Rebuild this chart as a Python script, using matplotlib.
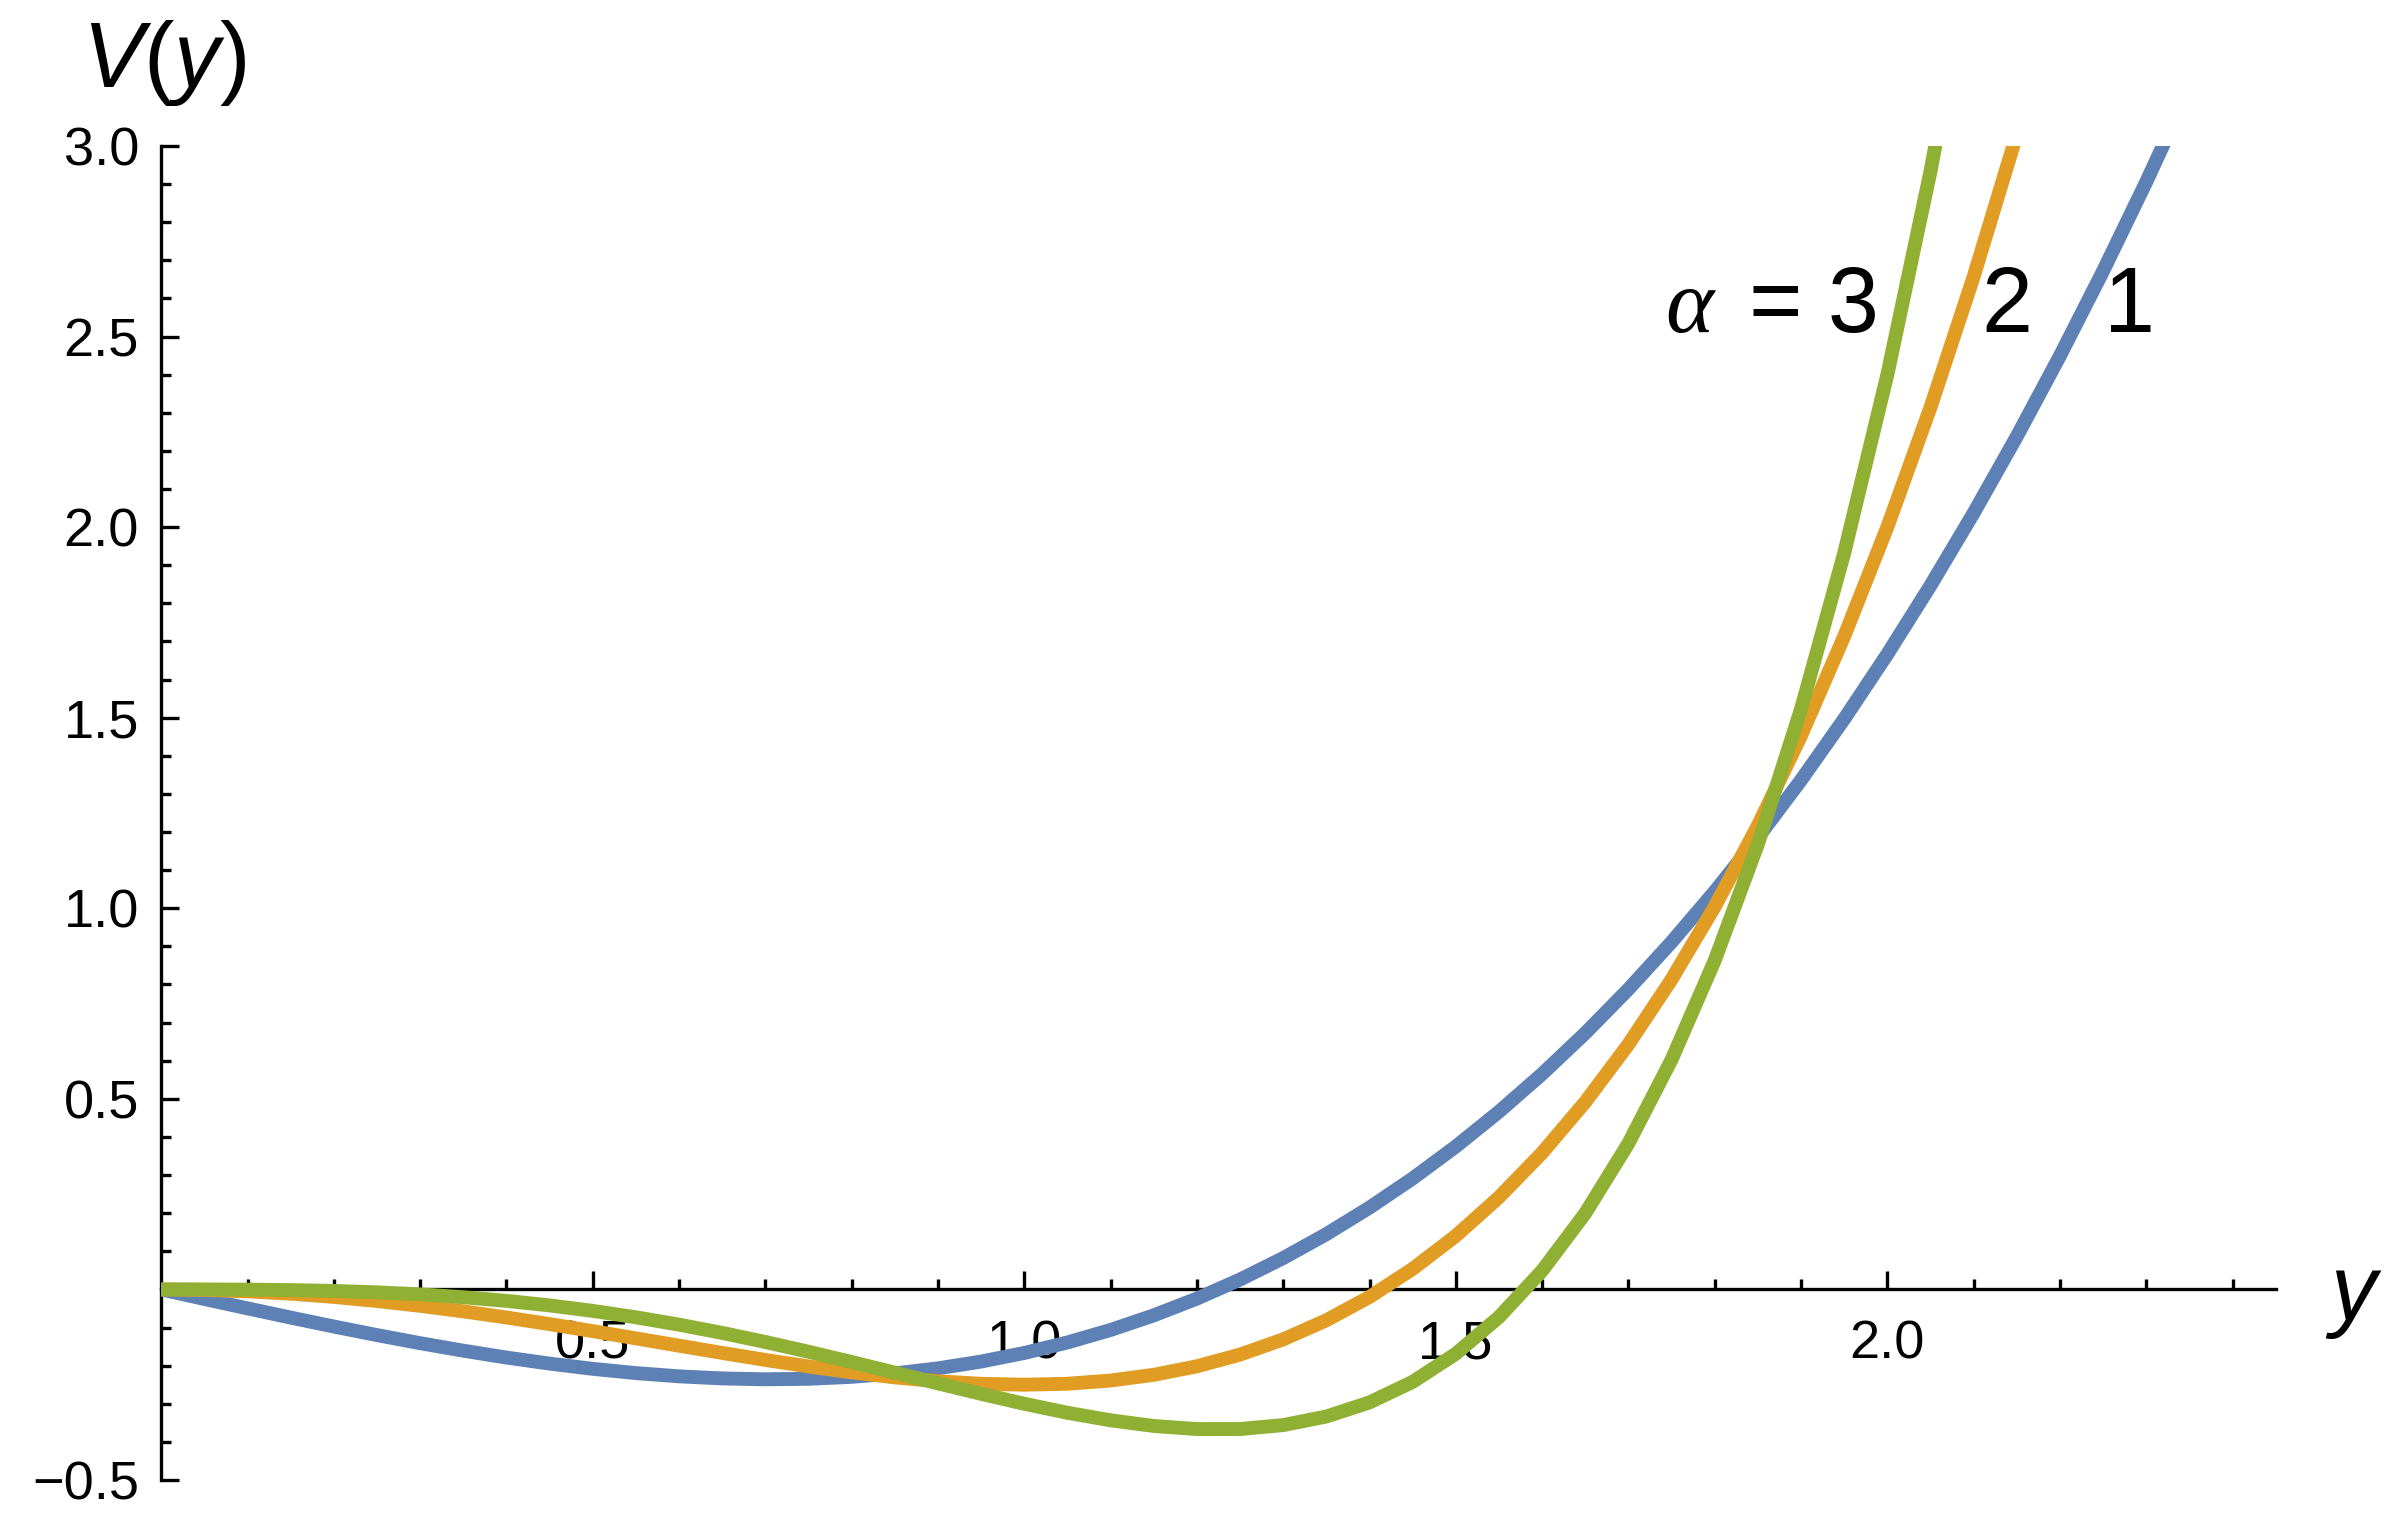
import matplotlib
matplotlib.use("Agg")
import matplotlib.pyplot as plt
from matplotlib.ticker import MultipleLocator, FixedLocator

# ---------------- data ----------------
y_grid = [0.00, 0.05, 0.10, 0.15, 0.20, 0.25, 0.30, 0.35, 0.40, 0.45,
          0.50, 0.55, 0.60, 0.65, 0.70, 0.75, 0.80, 0.85, 0.90, 0.95,
          1.00, 1.05, 1.10, 1.15, 1.20, 1.25, 1.30, 1.35, 1.40, 1.45,
          1.50, 1.55, 1.60, 1.65, 1.70, 1.75, 1.80, 1.85, 1.90, 1.95,
          2.00, 2.05, 2.10, 2.15, 2.20, 2.25, 2.30, 2.35]

V_alpha1 = [0, -0.025, -0.0497, -0.0739, -0.0973, -0.1198, -0.141, -0.1607,
            -0.1787, -0.1946, -0.2083, -0.2195, -0.228, -0.2335, -0.2357,
            -0.2344, -0.2293, -0.2203, -0.207, -0.1892, -0.1667, -0.1391,
            -0.1063, -0.068, -0.024, 0.026, 0.0823, 0.1451, 0.2147, 0.2912,
            0.375, 0.4663, 0.5653, 0.6724, 0.7877, 0.9115, 1.044, 1.1855,
            1.3363, 1.4966, 1.6667, 1.8467, 2.037, 2.2378, 2.4493, 2.6719,
            2.9057, 3.151]

V_alpha2 = [0, -0.0012, -0.005, -0.0111, -0.0196, -0.0303, -0.043, -0.0575,
            -0.0736, -0.091, -0.1094, -0.1284, -0.1476, -0.1666, -0.185,
            -0.2021, -0.2176, -0.2307, -0.241, -0.2476, -0.25, -0.2474,
            -0.239, -0.224, -0.2016, -0.1709, -0.131, -0.0809, -0.0196,
            0.0539, 0.1406, 0.2418, 0.3584, 0.4918, 0.643, 0.8135, 1.0044,
            1.2171, 1.453, 1.7135, 2.0, 2.314, 2.657, 3.0306, 3.4364]

V_alpha3 = [0, -0.0001, -0.0005, -0.0017, -0.0039, -0.0076, -0.013, -0.0204,
            -0.03, -0.0419, -0.0563, -0.0731, -0.0924, -0.1141, -0.1379,
            -0.1635, -0.1905, -0.2183, -0.2464, -0.2739, -0.3, -0.3236,
            -0.3434, -0.3582, -0.3663, -0.3662, -0.3559, -0.3334, -0.2964,
            -0.2424, -0.1688, -0.0726, 0.0492, 0.1999, 0.3832, 0.6029,
            0.8631, 1.1682, 1.5227, 1.9316, 2.4, 2.9335, 3.5377]

series = [V_alpha1, V_alpha2, V_alpha3]
series_labels = ["1", "2", "3"]
colors = ["#5E81B5", "#E19C24", "#8FB032"]

x_major = [0.5, 1.0, 1.5, 2.0]
x_major_labels = ["0.5", "1.0", "1.5", "2.0"]
y_major = [-0.5, 0.5, 1.0, 1.5, 2.0, 2.5, 3.0]
y_major_labels = ["\u22120.5", "0.5", "1.0", "1.5", "2.0", "2.5", "3.0"]

# ---------------- style ----------------
plt.rcParams['font.family'] = ['Liberation Sans', 'DejaVu Sans']
plt.rcParams['mathtext.fontset'] = 'custom'
plt.rcParams['mathtext.rm'] = 'Liberation Sans'
plt.rcParams['mathtext.it'] = 'Liberation Sans:italic'

fig = plt.figure(figsize=(23.96, 15.28), dpi=100)
ax = fig.add_axes([0.0673, 0.0314, 0.8825, 0.8731])

for vals, c in zip(series, colors):
    ax.plot(y_grid[:len(vals)], vals, color=c, lw=10, zorder=3,
            solid_joinstyle='round', solid_capstyle='butt')

ax.set_xlim(0, 2.45)
ax.set_ylim(-0.5, 3.0)

for s in ['top', 'right']:
    ax.spines[s].set_visible(False)
ax.spines['left'].set_position(('data', 0))
ax.spines['bottom'].set_position(('data', 0))
for s in ['left', 'bottom']:
    ax.spines[s].set_linewidth(2.4)
    ax.spines[s].set_zorder(2)

ax.xaxis.set_major_locator(FixedLocator(x_major))
ax.set_xticklabels(x_major_labels)
ax.xaxis.set_minor_locator(FixedLocator([0.1, 0.2, 0.3, 0.4, 0.6, 0.7, 0.8, 0.9,
                                         1.1, 1.2, 1.3, 1.4, 1.6, 1.7, 1.8, 1.9,
                                         2.1, 2.2, 2.3, 2.4]))
ax.yaxis.set_major_locator(FixedLocator(y_major))
ax.set_yticklabels(y_major_labels)
ax.yaxis.set_minor_locator(FixedLocator([-0.4, -0.3, -0.2, -0.1,
                                         0.1, 0.2, 0.3, 0.4, 0.6, 0.7, 0.8, 0.9,
                                         1.1, 1.2, 1.3, 1.4, 1.6, 1.7, 1.8, 1.9,
                                         2.1, 2.2, 2.3, 2.4, 2.6, 2.7, 2.8, 2.9]))

ax.tick_params(axis='both', which='both', direction='in', width=2.4, color='black')
ax.tick_params(axis='both', which='major', length=13, labelsize=39)
ax.tick_params(axis='both', which='minor', length=7.5)
ax.tick_params(axis='x', which='major', pad=22)
ax.tick_params(axis='y', which='major', pad=16)

# axis labels
ax.text(0.003, 3.154, r'$V(y)$', fontsize=66, ha='center', va='baseline',
        clip_on=False)
ax.text(2.540, -0.081, 'y', fontsize=66, style='italic', ha='center',
        va='baseline', clip_on=False)

# curve annotations
ann_y = 2.513
ax.text(1.770, ann_y, '\u03b1', fontsize=66, family='Liberation Serif',
        style='italic', ha='center', va='baseline')
ax.text(1.870, ann_y, '=', fontsize=66, ha='center', va='baseline')
ax.text(1.960, ann_y, series_labels[2], fontsize=66, ha='center', va='baseline')
ax.text(2.139, ann_y, series_labels[1], fontsize=66, ha='center', va='baseline')
ax.text(2.281, ann_y, series_labels[0], fontsize=66, ha='center', va='baseline')

fig.savefig('out.png', dpi=100)
